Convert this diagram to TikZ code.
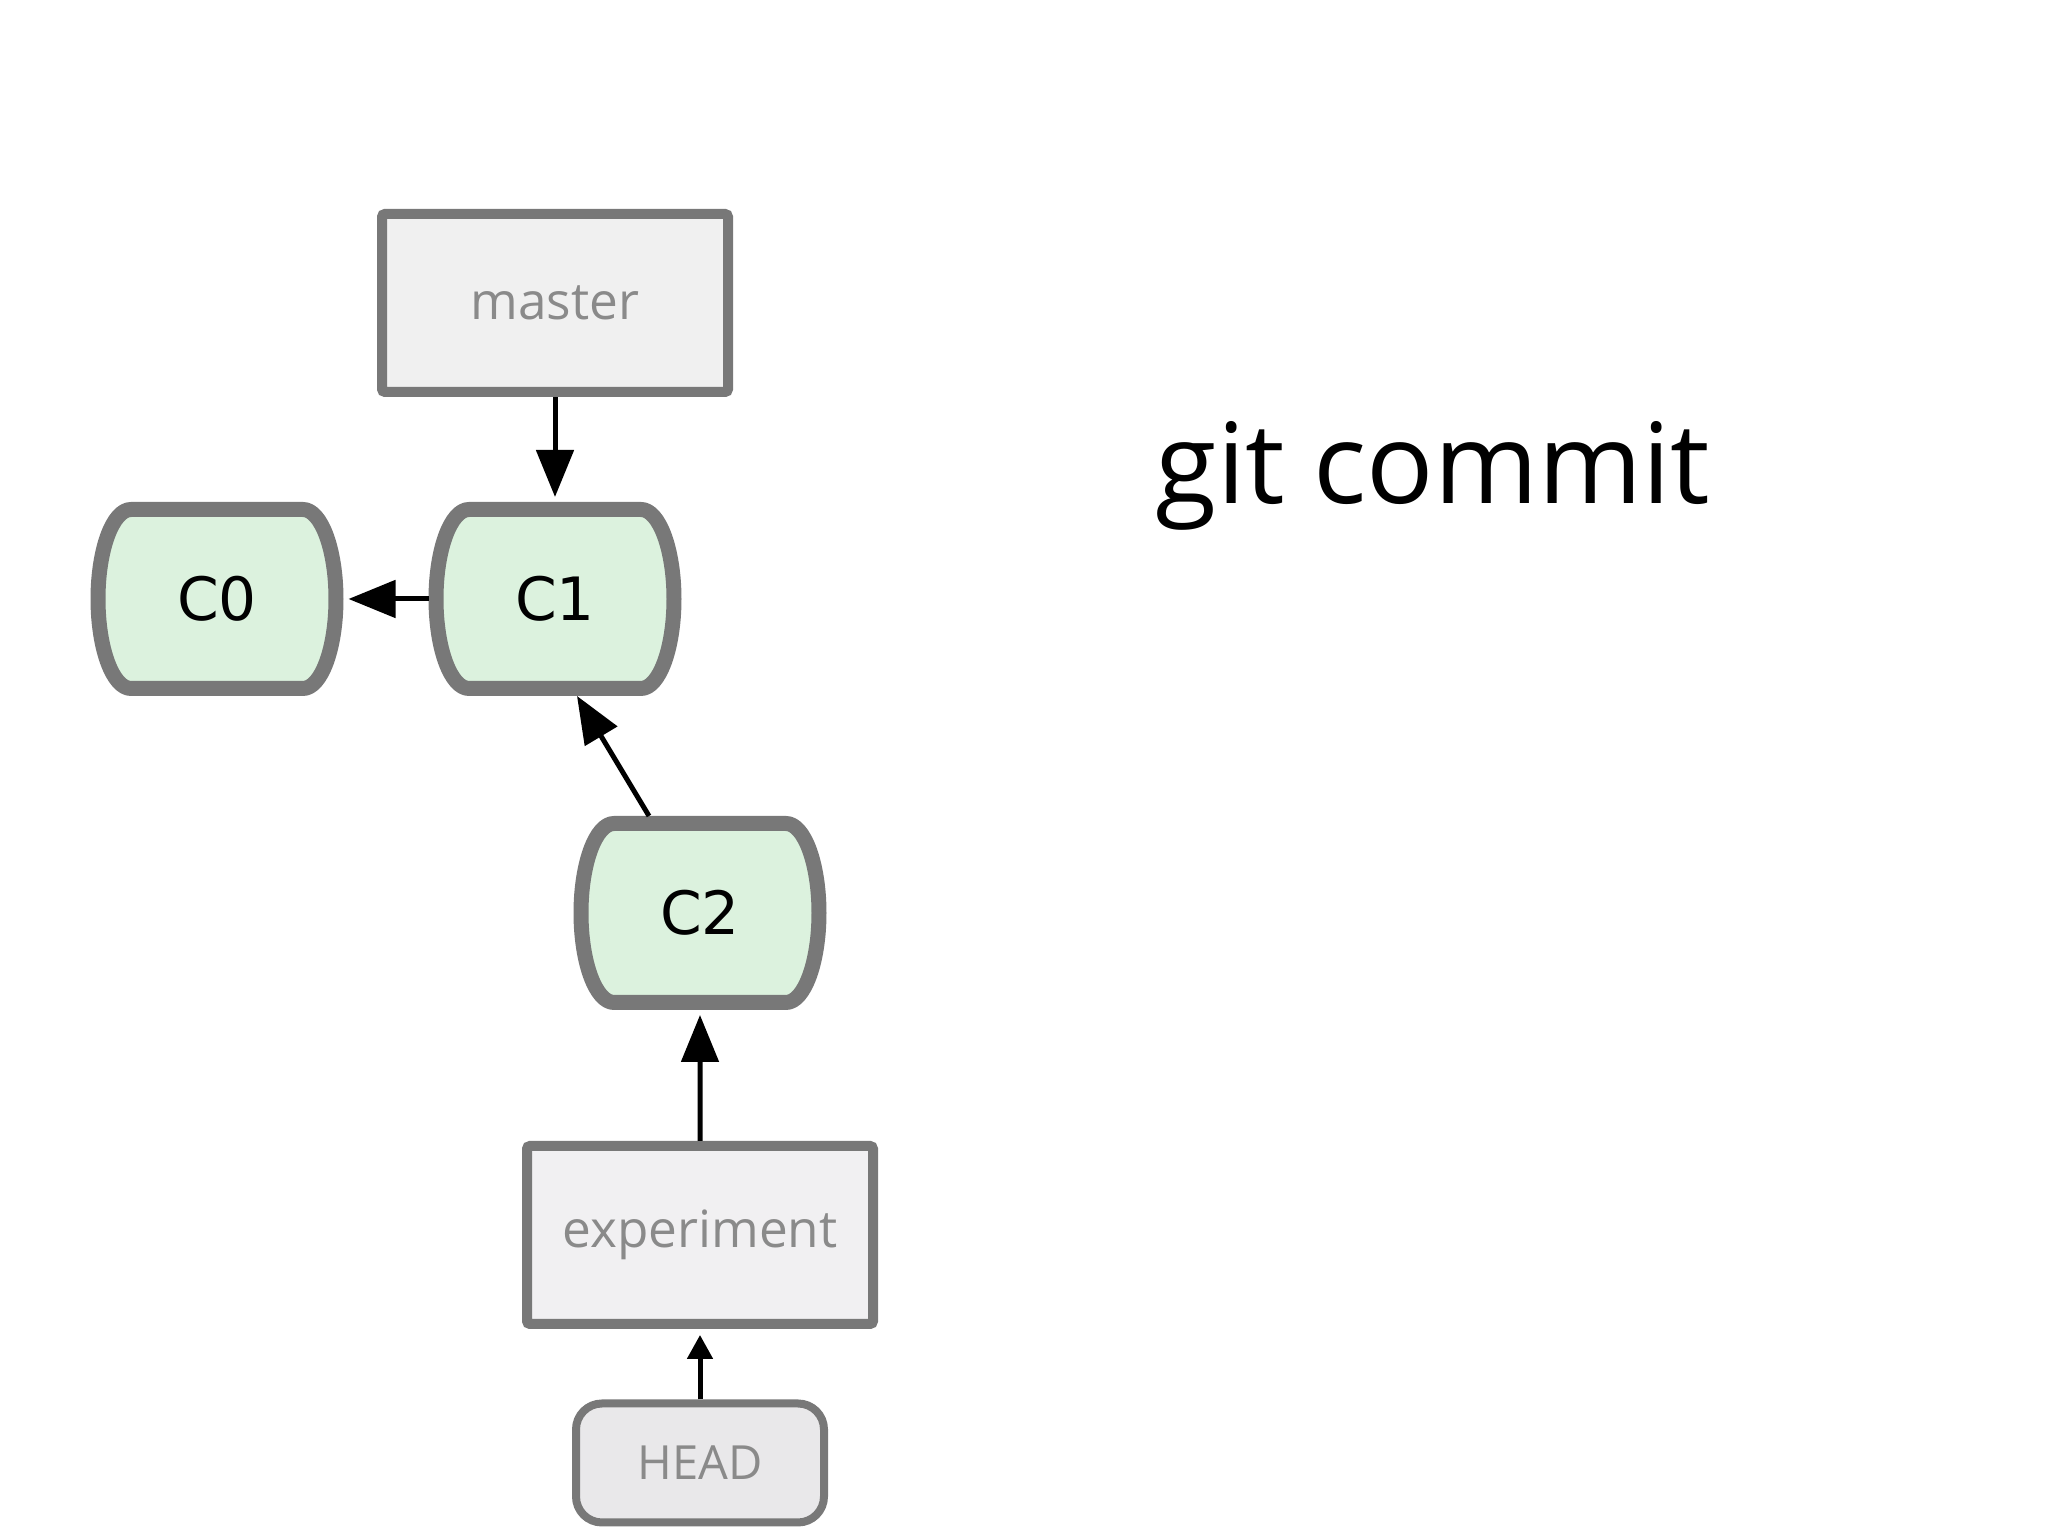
\documentclass[tikz,border=0pt]{standalone}
\usepackage{fontspec}
\usepackage {tikz}
\usetikzlibrary {positioning}
\usetikzlibrary{calc}
\usetikzlibrary{arrows.meta}
\newfontfamily\labelfont{Open Sans}
\newfontfamily\commitfont{DejaVu Sans}
\definecolor{edgegray}{HTML}{787878}
\definecolor{textgray}{HTML}{8A8A8A}
\definecolor{commitgreen}{HTML}{DCF2DE}
\definecolor{branchfill}{HTML}{F0F0F0}
\definecolor{expfill}{HTML}{F1F0F2}
\definecolor{headfill}{HTML}{E9E8EA}
\tikzset{
    branch/.style = {rectangle,draw=edgegray,line width=0.1cm,rounded corners=0.03cm,
        minimum width=3.46cm,minimum height=1.78cm,text=textgray,
        font=\labelfont\fontsize{14.6}{16}\selectfont},
    headbox/.style = {rectangle,draw=edgegray,fill=headfill,line width=0.08cm,rounded corners=0.26cm,
        minimum width=2.48cm,minimum height=1.19cm,text=textgray,
        font=\labelfont\fontsize{13.4}{15}\selectfont},
    barrel/.style = {draw=edgegray,fill=commitgreen,line width=0.15cm,line join=round},
    commit/.style = {rectangle,inner sep=0pt,outer sep=0pt,minimum width=2.53cm,minimum height=1.94cm,
        font=\commitfont\fontsize{17}{19}\selectfont},
    ptr/.style = {line width=0.05cm,-{Triangle[length=0.47cm,width=0.37cm]},shorten >=0.05cm},
    smallptr/.style = {line width=0.05cm,-{Triangle[length=0.24cm,width=0.25cm]},shorten >=0.06cm},
    title/.style = {font=\labelfont\fontsize{31.8}{36}\selectfont}}
\newcommand{\commitnode}[2]{%
    \begin{scope}[shift={(#2)}]
        \draw[barrel] (-0.86,0.895) -- (0.86,0.895)
            arc[start angle=90,end angle=-90,x radius=0.33,y radius=0.895]
            -- (-0.86,-0.895)
            arc[start angle=270,end angle=90,x radius=0.33,y radius=0.895] -- cycle;
        \node[commit] (#1) at (0,0) {#1};
    \end{scope}}

\begin{document}
\begin{tikzpicture}
        \useasboundingbox[fill=white] (0,0) rectangle (20.48,15.36);
        \path (5.55,12.33) node[branch,fill=branchfill] (master) {master}
        ++ (1.45,-9.32) node[branch,fill=expfill] (experiment) {experiment}
        + (0,-2.28) node[headbox] (HEAD) {HEAD};
        \commitnode{C0}{2.17,9.37}
        \commitnode{C1}{5.55,9.37}
        \commitnode{C2}{7.0,6.23}
        \node[title,anchor=base] (gitcommit) at (14.33,10.32) {git commit};
        \draw[ptr] (master) -- (C1);
        \draw[ptr] (C1) -- (C0);
        \draw[ptr,shorten >=0pt] ([xshift=-0.51cm]C2.north) -- ([xshift=0.22cm]C1.south);
        \draw[ptr] (experiment) -- (C2);
        \draw[smallptr] (HEAD) -- (experiment); \end{tikzpicture}
\end{document}
